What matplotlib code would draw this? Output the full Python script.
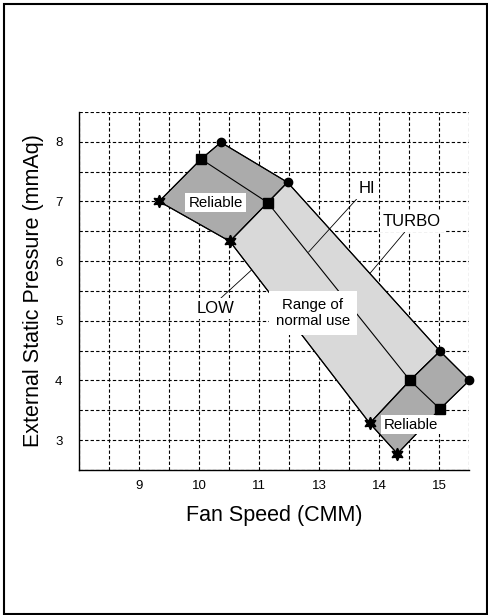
import matplotlib
matplotlib.use("Agg")
import matplotlib.pyplot as plt
from matplotlib.patches import Polygon, Rectangle
from matplotlib.ticker import MultipleLocator

plt.rcParams['font.family'] = ['Liberation Sans', 'DejaVu Sans']

# fan speed positions (evenly spaced axis) and pressure, per mode
low_x = [9.33, 10.51, 12.84, 13.30]
low_y = [7.00, 6.33, 3.28, 2.77]
hi_x = [10.03, 11.14, 13.51, 14.01]
hi_y = [7.71, 6.98, 4.00, 3.52]
turbo_x = [10.36, 11.47, 14.01, 14.50]
turbo_y = [7.99, 7.32, 4.49, 4.00]

x_ticks = [9, 10, 11, 12, 13, 14]
x_tick_labels = ['9', '10', '11', '13', '14', '15']
y_ticks = [3, 4, 5, 6, 7, 8]

dark = '#ababab'
light = '#d9d9d9'
region_colors = [dark, light, dark]

fig = plt.figure(figsize=(4.89, 6.15), dpi=100)
ax = fig.add_axes([0.162, 0.236, 0.798, 0.582])

# shaded regions between consecutive points of the three curves
for k in range(3):
    pts = [(low_x[k], low_y[k]), (hi_x[k], hi_y[k]), (turbo_x[k], turbo_y[k]),
           (turbo_x[k + 1], turbo_y[k + 1]), (hi_x[k + 1], hi_y[k + 1]),
           (low_x[k + 1], low_y[k + 1])]
    ax.add_patch(Polygon(pts, closed=True, facecolor=region_colors[k],
                         edgecolor='black', linewidth=0.8, zorder=1))

for xs, ys in [(low_x, low_y), (hi_x, hi_y), (turbo_x, turbo_y)]:
    ax.plot(xs, ys, color='black', linewidth=0.8, zorder=2)
for k in range(4):
    ax.plot([low_x[k], hi_x[k], turbo_x[k]], [low_y[k], hi_y[k], turbo_y[k]],
            color='black', linewidth=0.8, zorder=2)

ax.plot(low_x, low_y, linestyle='none', marker=(6, 1, 0), markersize=9,
        color='black', zorder=5, clip_on=False)
ax.plot(hi_x, hi_y, linestyle='none', marker='s', markersize=6.5,
        color='black', zorder=5, clip_on=False)
ax.plot(turbo_x, turbo_y, linestyle='none', marker='o', markersize=6,
        color='black', zorder=5, clip_on=False)

box = dict(facecolor='white', edgecolor='none', pad=2)
ax.text(10.27, 6.98, 'Reliable', fontsize=10.8, ha='center', va='center',
        bbox=box, zorder=4)
ax.text(13.52, 3.26, 'Reliable', fontsize=10.8, ha='center', va='center',
        bbox=box, zorder=4)
ax.text(11.89, 5.13, 'Range of\nnormal use', fontsize=10.8, ha='center',
        va='center', linespacing=1.25,
        bbox=dict(facecolor='white', edgecolor='none', pad=5), zorder=4)

line = dict(arrowstyle='-', color='black', linewidth=0.6, shrinkA=0, shrinkB=0)
ax.annotate('HI', xy=(11.82, 6.15), xytext=(12.8, 7.21), fontsize=12,
            ha='center', va='center', bbox=box, zorder=4,
            arrowprops=dict(line, relpos=(0.0, 0.0)))
ax.annotate('TURBO', xy=(12.84, 5.79), xytext=(13.54, 6.66), fontsize=12,
            ha='center', va='center', bbox=box, zorder=4,
            arrowprops=dict(line, relpos=(0.42, 0.0)))
ax.annotate('LOW', xy=(10.87, 5.85), xytext=(10.27, 5.2), fontsize=12,
            ha='center', va='center', bbox=box, zorder=4,
            arrowprops=dict(line, relpos=(0.55, 1.0)))

ax.set_xlim(8, 14.5)
ax.set_ylim(2.5, 8.5)
ax.set_xticks(x_ticks)
ax.set_xticklabels(x_tick_labels)
ax.set_yticks(y_ticks)
ax.xaxis.set_minor_locator(MultipleLocator(0.5))
ax.yaxis.set_minor_locator(MultipleLocator(0.5))
ax.tick_params(which='both', length=0, labelsize=9.5)
ax.tick_params(axis='x', pad=7)
ax.tick_params(axis='y', pad=12)
ax.grid(which='both', color='black', linestyle=(0, (3, 2)), linewidth=0.8)
ax.set_axisbelow(True)
for s in ['top', 'right']:
    ax.spines[s].set_visible(False)
for s in ['left', 'bottom']:
    ax.spines[s].set_linewidth(1.0)

ax.set_xlabel('Fan Speed (CMM)', fontsize=15.5, labelpad=10)
ax.set_ylabel('External Static Pressure (mmAq)', fontsize=15.5, labelpad=8)

fig.patches.append(Rectangle((4 / 489, 1.5 / 615), 483.5 / 489, 609.5 / 615,
                             transform=fig.transFigure, fill=False,
                             edgecolor='black', linewidth=1.5))

fig.savefig('out.png', dpi=100, facecolor='white')
